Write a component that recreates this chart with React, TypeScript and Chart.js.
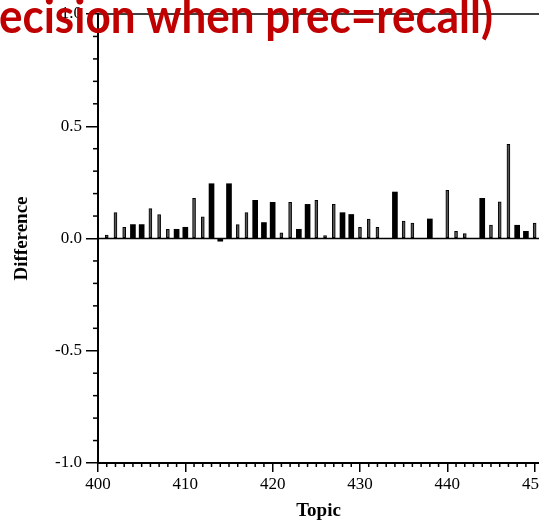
import React, { useEffect, useRef } from "react";
import { Chart, registerables } from "chart.js";

Chart.register(...registerables);

// ---- data ----
const solidTopics = [404, 405, 409, 410, 413, 414, 415, 418, 419, 420, 423, 424, 428, 429, 434, 438, 444, 448, 449];
const solidValues = [0.062, 0.062, 0.041, 0.05, 0.244, -0.012, 0.244, 0.17, 0.071, 0.161, 0.041, 0.152, 0.115, 0.107, 0.207, 0.087, 0.179, 0.059, 0.032];

const hollowTopics = [401, 402, 403, 406, 407, 408, 411, 412, 416, 417, 421, 422, 425, 426, 427, 430, 431, 432, 435, 436, 440, 441, 442, 445, 446, 447, 450];
const hollowValues = [0.015, 0.115, 0.05, 0.133, 0.107, 0.041, 0.179, 0.096, 0.062, 0.115, 0.025, 0.161, 0.17, 0.013, 0.152, 0.05, 0.087, 0.05, 0.078, 0.069, 0.215, 0.032, 0.022, 0.06, 0.163, 0.419, 0.069];

const xTickValues = [400, 410, 420, 430, 440, 450];
const yTickValues = [-1, -0.5, 0, 0.5, 1];

const titleText = "ecision when prec=recall)";
const xTitle = "Topic";
const yTitle = "Difference";

const SERIF = "'Liberation Serif', 'DejaVu Serif', serif";

const extraPlugin = {
  id: "extraAxes",
  afterDraw(chart: any) {
    const { ctx, chartArea, scales } = chart;
    const { left, bottom } = chartArea;
    const x = scales.x;
    const y = scales.y;
    const W = chart.width;
    ctx.save();
    ctx.strokeStyle = "#000";
    ctx.lineWidth = 1.5;
    const line = (x1: number, y1: number, x2: number, y2: number) => {
      ctx.beginPath();
      ctx.moveTo(x1, y1);
      ctx.lineTo(x2, y2);
      ctx.stroke();
    };
    // zero line
    const y0 = y.getPixelForValue(0);
    line(left, y0, W, y0);
    // top frame line
    const y1 = y.getPixelForValue(1);
    line(left, y1, W, y1);
    // minor y ticks
    for (let i = -10; i <= 10; i++) {
      if (i % 5 === 0) continue;
      const py = y.getPixelForValue(i / 10);
      line(left - 5, py, left, py);
    }
    // minor x ticks
    for (let t = 400; t <= 451; t++) {
      if (t % 10 === 0) continue;
      const px = x.getPixelForValue(t);
      if (px > W) continue;
      line(px, bottom, px, bottom + 4);
    }
    // slide title (red, cut at the left)
    ctx.fillStyle = "#C00000";
    ctx.font = "bold 47px Lato, 'Open Sans', sans-serif";
    ctx.textBaseline = "alphabetic";
    ctx.textAlign = "left";
    const w = ctx.measureText(titleText).width;
    const sx = 494 / w;
    ctx.translate(-1, 33);
    ctx.scale(sx, 1);
    ctx.fillText(titleText, 0, 0);
    ctx.restore();
  },
};

export default function App() {
  const ref = useRef<HTMLCanvasElement>(null);

  useEffect(() => {
    const canvas = ref.current;
    if (!canvas) return;
    const solidData = solidTopics.map((t, i) => ({ x: t, y: solidValues[i] }));
    const hollowData = hollowTopics.map((t, i) => ({ x: t, y: hollowValues[i] }));

    const chart = new Chart(canvas, {
      type: "bar",
      data: {
        datasets: [
          {
            label: "solid",
            data: solidData as any,
            backgroundColor: "#000",
            borderColor: "#000",
            borderWidth: 0,
            barThickness: 5,
            grouped: false,
          } as any,
          {
            label: "hollow",
            data: hollowData as any,
            backgroundColor: "#555",
            borderColor: "#000",
            borderWidth: 1,
            borderSkipped: false,
            barThickness: 3,
            grouped: false,
          } as any,
        ],
      },
      options: {
        responsive: false,
        animation: false,
        layout: { autoPadding: false, padding: { top: 14, left: 0, right: 0, bottom: 0 } } as any,
        plugins: {
          legend: { display: false },
          tooltip: { enabled: false },
          title: { display: false },
        },
        scales: {
          x: {
            type: "linear",
            min: 400,
            max: 450.5,
            offset: false,
            afterBuildTicks: (scale: any) => {
              scale.ticks = xTickValues.map((v) => ({ value: v }));
            },
            afterFit: (scale: any) => {
              scale.height = 58;
              scale.paddingLeft = 0;
              scale.paddingRight = 0;
            },
            ticks: {
              autoSkip: false,
              maxRotation: 0,
              minRotation: 0,
              padding: 2,
              color: "#000",
              font: { family: SERIF, size: 17 },
              callback: (v: any) => String(v),
            },
            grid: {
              display: true,
              drawOnChartArea: false,
              drawTicks: true,
              tickLength: 9,
              offset: false,
              color: "#000",
              lineWidth: 1.5,
            },
            border: { display: true, color: "#000", width: 2 },
            title: {
              display: true,
              text: xTitle,
              color: "#000",
              font: { family: SERIF, size: 19, weight: "bold", lineHeight: 1 },
              padding: { top: 0, bottom: 0 },
            },
          } as any,
          y: {
            type: "linear",
            min: -1,
            max: 1,
            afterBuildTicks: (scale: any) => {
              scale.ticks = yTickValues.map((v) => ({ value: v }));
            },
            afterFit: (scale: any) => {
              scale.width = 98;
              scale.paddingTop = 0;
              scale.paddingBottom = 0;
            },
            ticks: {
              autoSkip: false,
              padding: 4,
              color: "#000",
              font: { family: SERIF, size: 17 },
              callback: (v: any) => Number(v).toFixed(1),
            },
            grid: {
              display: true,
              drawOnChartArea: false,
              drawTicks: true,
              tickLength: 12,
              color: "#000",
              lineWidth: 1.5,
            },
            border: { display: true, color: "#000", width: 2 },
            title: {
              display: true,
              text: yTitle,
              color: "#000",
              font: { family: SERIF, size: 19, weight: "bold", lineHeight: 1 },
              padding: { top: 12.5, bottom: 0 },
            },
          } as any,
        },
      },
      plugins: [extraPlugin],
    });
    return () => chart.destroy();
  }, []);

  return (
    <div style={{ position: "absolute", left: 0, top: 0, width: 539, height: 521, background: "#fff" }}>
      <canvas ref={ref} width={539} height={521} style={{ display: "block" }} />
    </div>
  );
}
